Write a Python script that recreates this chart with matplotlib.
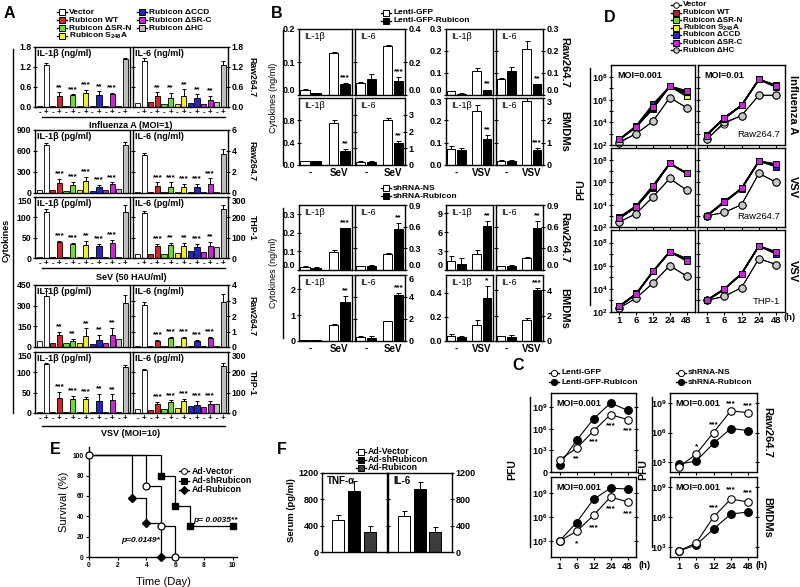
import matplotlib
matplotlib.use('Agg')
import matplotlib.pyplot as plt
from matplotlib.ticker import NullLocator
import numpy as np

plt.rcParams['font.family'] = ['Liberation Sans', 'DejaVu Sans']
plt.rcParams['font.weight'] = 'bold'
plt.rcParams['font.size'] = 5.5
plt.rcParams['axes.linewidth'] = 1.0
plt.rcParams['xtick.major.width'] = 0.8
plt.rcParams['ytick.major.width'] = 0.8
plt.rcParams['xtick.major.size'] = 2.5
plt.rcParams['ytick.major.size'] = 2.5
plt.rcParams['xtick.major.pad'] = 1.2
plt.rcParams['ytick.major.pad'] = 1.2
plt.rcParams['ytick.direction'] = 'inout'
plt.rcParams['mathtext.fontset'] = 'custom'
for k in ['rm', 'it', 'bf', 'sf', 'tt', 'cal']:
    plt.rcParams['mathtext.' + k] = 'Liberation Sans:bold'
plt.rcParams['mathtext.default'] = 'bf'

# ---------------- panel A data ----------------
A_groups = ['Vector', 'Rubicon WT', 'Rubicon ΔSR-N', 'Rubicon S$_{248}$A',
            'Rubicon ΔCCD', 'Rubicon ΔSR-C', 'Rubicon ΔHC']
A_colors = ['#ffffff', '#d0262e', '#6cd934', '#f0ee2a', '#2626c8', '#c42ad2', '#bebebe']
A_virus = ['Influenza A (MOI=1)', 'SeV (50 HAU/ml)', 'VSV (MOI=10)']
A_cells = ['Raw264.7', 'Raw264.7', 'THP-1', 'Raw264.7', 'THP-1']
A_il1b_units = ['ng/ml', 'pg/ml', 'pg/ml', 'pg/ml', 'pg/ml']
A_il6_units = ['ng/ml', 'ng/ml', 'pg/ml', 'ng/ml', 'pg/ml']

A_il1b_minus = [[0.03, 0.03, 0.03, 0.03, 0.03, 0.03, 0.03],
                [40, 40, 30, 40, 30, 40, 50],
                [2, 2, 2, 2, 2, 2, 2],
                [40, 30, 30, 30, 25, 30, 55],
                [3, 3, 3, 3, 3, 3, 3]]
A_il1b_plus = [[1.27, 0.32, 0.35, 0.42, 0.35, 0.38, 1.45],
               [690, 140, 120, 175, 80, 130, 680],
               [112, 40, 35, 32, 30, 38, 112],
               [370, 90, 40, 80, 50, 85, 320],
               [120, 37, 35, 35, 30, 32, 112]]
A_il1b_err = [[0.05, 0.12, 0.03, 0.1, 0.12, 0.04, 0.03],
              [30, 60, 40, 50, 40, 20, 50],
              [8, 3, 3, 10, 5, 6, 18],
              [60, 20, 20, 55, 40, 55, 60],
              [2, 15, 8, 5, 17, 14, 6]]
A_il1b_stars = [['**', '***', '***', '**', '***'],
                ['***', '***', '***', '***', '***'],
                ['***', '***', '**', '***', '***'],
                ['**', '**', '**', '**', '**'],
                ['***', '***', '***', '**', '**']]
A_il1b_ticks = [[0, 0.6, 1.2, 1.8], [0, 300, 600, 900], [0, 50, 100, 150],
                [0, 150, 300, 450], [0, 50, 100, 150]]

A_il6_minus = [[0.12, 0.15, 0.1, 0.1, 0.12, 0.1, 0.15],
               [0.05, 0.05, 0.05, 0.05, 0.05, 0.05, 0.05],
               [20, 20, 20, 25, 35, 30, 55],
               [0.05, 0.05, 0.05, 0.05, 0.05, 0.05, 0.05],
               [20, 15, 20, 25, 35, 30, 45]]
A_il6_plus = [[1.37, 0.32, 0.27, 0.33, 0.28, 0.22, 1.25],
              [3.6, 0.7, 0.6, 0.6, 0.6, 0.9, 3.7],
              [220, 60, 65, 60, 55, 60, 240],
              [2.7, 0.4, 0.6, 0.6, 0.4, 0.6, 2.9],
              [210, 45, 55, 60, 40, 45, 230]]
A_il6_err = [[0.1, 0.12, 0.15, 0.2, 0.1, 0.12, 0.13],
             [0.2, 0.3, 0.4, 0.3, 0.3, 0.5, 0.5],
             [10, 10, 10, 15, 15, 20, 20],
             [0.2, 0.05, 0.05, 0.05, 0.05, 0.05, 0.5],
             [5, 10, 8, 10, 20, 15, 15]]
A_il6_stars = [['**', '**', '**', '**', '**'],
               ['***', '***', '***', '***', '***'],
               ['***', '**', '**', '***', '**'],
               ['***', '***', '***', '***', '***'],
               ['***', '***', '***', '***', '***']]
A_il6_ticks = [[0, 0.6, 1.2, 1.8], [0, 2, 4, 6], [0, 100, 200, 300],
               [0, 1, 2, 3, 4], [0, 100, 200, 300]]

# ---------------- panel B data ----------------
B_conditions = ['-', 'SeV', '-', 'SeV', '-', 'VSV', '-', 'VSV']
B_lenti_raw_vals = [[0.016, 0.006, 0.128, 0.033], [0.075, 0.1, 0.3, 0.085],
                    [0.017, 0.006, 0.11, 0.022], [0.075, 0.108, 0.21, 0.048]]
B_lenti_raw_err = [[0.002, 0.001, 0.003, 0.004], [0.005, 0.025, 0.005, 0.025],
                   [0.001, 0.001, 0.015, 0.003], [0.004, 0.02, 0.035, 0.004]]
B_lenti_raw_stars = ['***', '***', '**', '**']
B_lenti_raw_ticks = [[0, 0.1, 0.2], [0, 0.2, 0.4], [0, 0.1, 0.2, 0.3], [0, 0.1, 0.2, 0.3]]
B_lenti_raw_top = [0.2, 0.4, 0.3, 0.3]

B_lenti_bmdm_vals = [[0.07, 0.07, 0.75, 0.25], [0.2, 0.2, 2.7, 1.3],
                     [0.07, 0.065, 0.24, 0.115], [0.2, 0.2, 2.85, 0.68]]
B_lenti_bmdm_err = [[0.01, 0.01, 0.06, 0.04], [0.01, 0.01, 0.08, 0.15],
                    [0.015, 0.01, 0.03, 0.02], [0.01, 0.01, 0.2, 0.06]]
B_lenti_bmdm_stars = ['**', '**', '**', '***']
B_lenti_bmdm_ticks = [[0, 0.4, 0.8], [0, 1, 2, 3], [0, 0.1, 0.2, 0.3], [0, 1, 2, 3]]
B_lenti_bmdm_top = [1.2, 4, 0.3, 3]

B_sh_raw_vals = [[0.015, 0.01, 0.095, 0.225], [0.05, 0.06, 0.22, 0.57],
                 [1.4, 1.0, 2.5, 6.9], [0.05, 0.06, 0.17, 0.58]]
B_sh_raw_err = [[0.005, 0.006, 0.012, 0.003], [0.005, 0.005, 0.01, 0.08],
                [0.8, 0.9, 0.7, 0.9], [0.005, 0.005, 0.01, 0.1]]
B_sh_raw_stars = ['***', '**', '**', '**']
B_sh_raw_ticks = [[0, 0.1, 0.2, 0.3], [0, 0.3, 0.6, 0.9], [0, 3, 6, 9], [0, 0.3, 0.6, 0.9]]
B_sh_raw_top = [0.35, 0.9, 10.3, 0.9]

B_sh_bmdm_vals = [[0.04, 0.03, 0.6, 1.5], [0.4, 0.3, 1.8, 4.2],
                  [0.045, 0.035, 0.135, 0.36], [0.4, 0.3, 1.65, 4.0]]
B_sh_bmdm_err = [[0.01, 0.01, 0.05, 0.25], [0.02, 0.2, 0.05, 0.15],
                 [0.015, 0.005, 0.04, 0.1], [0.02, 0.2, 0.2, 0.2]]
B_sh_bmdm_stars = ['**', '***', '*', '***']
B_sh_bmdm_ticks = [[0, 1, 2], [0, 2, 4, 6], [0, 0.2, 0.4], [0, 2, 4]]
B_sh_bmdm_top = [2.55, 6, 0.55, 5.2]

# ---------------- panel D data (log10 PFU) ----------------
D_hours = ['1', '6', '12', '24', '48']
D_flu_lo = [[2.3, 3.0, 4.1, 6.2, 5.3], [2.5, 3.6, 5.4, 7.2, 6.6], [2.5, 3.6, 5.2, 7.2, 6.5],
            [2.5, 3.6, 5.3, 7.2, 6.3], [2.5, 3.7, 5.6, 7.2, 6.7], [2.5, 3.6, 5.4, 7.2, 6.8],
            [2.2, 3.0, 4.1, 6.2, 5.3]]
D_flu_hi = [[2.5, 3.9, 4.6, 6.4, 6.4], [2.9, 4.4, 5.5, 7.8, 7.2], [2.9, 4.3, 5.5, 7.8, 7.1],
            [2.9, 4.4, 5.5, 7.8, 7.2], [2.9, 4.4, 5.5, 7.8, 7.3], [2.8, 4.4, 5.5, 7.8, 7.2],
            [2.5, 4.0, 4.6, 6.4, 6.4]]
D_vsv_raw_lo = [[2.45, 3.2, 4.7, 6.35, 5.3], [2.8, 3.8, 5.6, 7.7, 6.8], [2.8, 3.8, 5.5, 7.7, 6.8],
                [2.8, 3.8, 5.6, 7.7, 6.8], [2.9, 3.9, 5.7, 7.7, 6.8], [2.8, 3.8, 5.7, 7.7, 6.8],
                [2.45, 3.2, 4.7, 6.35, 5.3]]
D_vsv_raw_hi = [[3.0, 3.3, 4.0, 6.8, 6.0], [3.0, 4.2, 5.45, 7.9, 7.5], [3.0, 4.2, 5.4, 7.9, 7.5],
                [3.0, 4.2, 5.45, 7.9, 7.6], [3.0, 4.3, 5.45, 7.9, 7.4], [3.0, 4.2, 5.45, 7.9, 7.65],
                [3.0, 3.3, 4.0, 6.8, 6.0]]
D_vsv_thp_lo = [[2.35, 3.2, 4.5, 6.0, 5.1], [2.5, 3.55, 5.5, 7.2, 6.6], [2.5, 3.55, 5.5, 7.2, 6.5],
                [2.5, 3.55, 5.5, 7.2, 6.5], [2.5, 3.6, 5.5, 7.2, 6.6], [2.5, 3.55, 5.5, 7.2, 6.4],
                [2.35, 3.2, 4.5, 6.0, 5.1]]
D_vsv_thp_hi = [[3.0, 3.35, 4.1, 6.6, 6.1], [3.0, 3.95, 5.3, 7.7, 7.1], [3.0, 3.95, 5.3, 7.7, 7.1],
                [3.0, 3.95, 5.3, 7.7, 7.1], [3.0, 4.0, 5.3, 7.7, 7.0], [3.0, 3.95, 5.3, 7.7, 7.2],
                [3.0, 3.35, 4.1, 6.6, 6.1]]
D_markers = ['o', 's', 's', 's', 's', 's', 'o']
D_faces = ['#ffffff', '#b0222c', '#6cd934', '#f0ee2a', '#2626c8', '#c42ad2', '#c8c8c8']

# ---------------- panel C data (log10 PFU) ----------------
C_lenti_raw_gfp = [1.7, 3.3, 5.7, 8.0, 7.3]
C_lenti_raw_rub = [1.0, 4.4, 7.4, 9.6, 8.6]
C_lenti_bmdm_gfp = [3.0, 4.2, 6.2, 8.5, 7.9]
C_lenti_bmdm_rub = [3.0, 5.3, 8.2, 9.6, 9.5]
C_sh_raw_ns = [2.5, 3.8, 6.0, 8.2, 8.0]
C_sh_raw_rub = [2.8, 3.1, 4.9, 6.4, 6.2]
C_sh_bmdm_ns = [2.6, 3.4, 6.0, 7.8, 7.5]
C_sh_bmdm_rub = [2.6, 3.2, 4.8, 6.3, 6.5]
C_lenti_raw_stars = ['', '**', '***', '***', '***']
C_lenti_bmdm_stars = ['', '*', '***', '***', '***']
C_sh_raw_stars = ['', '*', '***', '***', '***']
C_sh_bmdm_stars = ['', '', '***', '***', '***']

# ---------------- panel E data ----------------
E_days_vector = [0, 4, 5, 6]
E_surv_vector = [100, 70, 30, 0]
E_days_sh = [0, 5, 6, 7, 10]
E_surv_sh = [100, 80, 50, 30, 30]
E_days_rub = [0, 3, 4, 5]
E_surv_rub = [100, 58, 33, 0]

# ---------------- panel F data ----------------
F_groups = ['Ad-Vector', 'Ad-shRubicon', 'Ad-Rubicon']
F_colors = ['#ffffff', '#000000', '#3c3c3c']
F_tnf = [485, 925, 305]
F_tnf_err = [70, 150, 85]
F_il6 = [550, 950, 300]
F_il6_err = [80, 110, 80]

# ---------------- layout helpers ----------------
W, H = 800, 587
fig = plt.figure(figsize=(8, 5.87), dpi=100)
ov = fig.add_axes([0, 0, 1, 1], zorder=20)
ov.set_xlim(0, W)
ov.set_ylim(H, 0)
ov.axis('off')


def box(x0, y0, x1, y1):
    return fig.add_axes([x0 / W, 1 - y1 / H, (x1 - x0) / W, (y1 - y0) / H])


def fmt(ticks):
    if any(abs(t - round(t)) > 1e-9 for t in ticks):
        return ['%.1f' % t for t in ticks]
    return ['%d' % t for t in ticks]


def text(x, y, s, **kw):
    ov.text(x, y, s, **kw)


def swatch(x, y, marker, face, ms=4.0, half=5):
    ov.plot([x - half, x + half], [y, y], color='k', lw=1.0)
    ov.plot([x], [y], marker=marker, mfc=face, mec='k', ms=ms, mew=0.7)


def side_ticks(ax, ticks, side, size, stacked=False, above=False):
    ax.set_yticks(ticks)
    ax.set_yticklabels(fmt(ticks))
    if side == 'right':
        ax.yaxis.tick_right()
        ax.tick_params(axis='y', left=True, right=True, labelleft=False, labelright=True)
    else:
        ax.tick_params(axis='y', left=True, labelleft=True)
    ax.tick_params(axis='y', labelsize=size)
    labs = ax.get_yticklabels()
    # keep labels of stacked panels from running into each other
    if stacked:
        labs[-1].set_va('top')
    if above:
        labs[0].set_va('bottom')


# ---------------- panel A ----------------
A_cols = [(35, 130), (133, 228)]
A_rows = [(47, 107), (130, 193), (197, 258), (285, 347), (352, 413)]

for r in range(5):
    y0, y1 = A_rows[r]
    for side in range(2):
        x0, x1 = A_cols[side]
        ax = box(x0, y0, x1, y1)
        if side == 0:
            minus, plus, err, stars = A_il1b_minus[r], A_il1b_plus[r], A_il1b_err[r], A_il1b_stars[r]
            ticks, title = A_il1b_ticks[r], 'IL-1β (%s)' % A_il1b_units[r]
        else:
            minus, plus, err, stars = A_il6_minus[r], A_il6_plus[r], A_il6_err[r], A_il6_stars[r]
            ticks, title = A_il6_ticks[r], 'IL-6 (%s)' % A_il6_units[r]
        top = ticks[-1]
        pm = np.arange(7) * 2
        pp = pm + 1
        ax.bar(pm, minus, 0.8, color=A_colors, edgecolor='k', lw=0.6)
        ax.bar(pp, plus, 0.8, color=A_colors, edgecolor='k', lw=0.6)
        ax.errorbar(pp, plus, yerr=[np.zeros(7), err], fmt='none', ecolor='k',
                    elinewidth=0.7, capsize=1.5, capthick=0.7)
        for i, s in enumerate(stars):
            ax.text(pp[i + 1], plus[i + 1] + err[i + 1] + top * 0.08, s,
                    ha='center', va='center', fontsize=6)
        ax.set_xlim(-0.7, 13.7)
        ax.set_ylim(0, top)
        side_ticks(ax, ticks, 'left' if side == 0 else 'right', 6.2, stacked=r in (2, 4))
        ax.text(0.02, 0.97, title, transform=ax.transAxes, ha='left', va='top', fontsize=6.5)
        if r in (0, 2, 4):
            ax.set_xticks(np.arange(14))
            ax.set_xticklabels(['-', '+'] * 7, fontsize=5.8)
            ax.tick_params(axis='x', length=0, pad=1.5)
        else:
            ax.set_xticks([])
    text(252, (y0 + y1) / 2, A_cells[r], rotation=270, ha='center', va='center', fontsize=6.3)

for i, (yline, ytxt) in enumerate([(117, 125), (268, 277), (426, 434)]):
    ov.plot([42, 225], [yline, yline], color='k', lw=1.0)
    text(131, ytxt, A_virus[i], ha='center', va='center', fontsize=6.5)

ov.plot([13, 13], [49, 413], color='k', lw=1.0)
text(6, 240, 'Cytokines', rotation=90, ha='center', va='center', fontsize=6.5)

text(9, 13, 'A', fontsize=11.5, ha='center', va='center')
for i in range(7):
    if i < 4:
        x, y = 62, 12 + 8 * i
    else:
        x, y = 142, 12 + 8 * (i - 4)
    swatch(x, y, 's', A_colors[i])
    text(x + 7, y, A_groups[i], ha='left', va='center', fontsize=6)

# ---------------- panel B ----------------
B_cols = [(299, 352), (355, 405), (446, 493), (496, 543)]
B_rows = [(29, 95), (98, 165), (205, 270), (275, 341)]
B_pos = [0.5, 1.5, 3.0, 4.0]
B_colors = ['#ffffff', '#000000', '#ffffff', '#000000']
B_sets = [(B_lenti_raw_vals, B_lenti_raw_err, B_lenti_raw_stars, B_lenti_raw_ticks, B_lenti_raw_top),
          (B_lenti_bmdm_vals, B_lenti_bmdm_err, B_lenti_bmdm_stars, B_lenti_bmdm_ticks, B_lenti_bmdm_top),
          (B_sh_raw_vals, B_sh_raw_err, B_sh_raw_stars, B_sh_raw_ticks, B_sh_raw_top),
          (B_sh_bmdm_vals, B_sh_bmdm_err, B_sh_bmdm_stars, B_sh_bmdm_ticks, B_sh_bmdm_top)]
B_cells = ['Raw264.7', 'BMDMs', 'Raw264.7', 'BMDMs']

for r in range(4):
    vals, errs, stars, ticks, tops = B_sets[r]
    y0, y1 = B_rows[r]
    for c in range(4):
        x0, x1 = B_cols[c]
        ax = box(x0, y0, x1, y1)
        v, e, top = vals[c], errs[c], tops[c]
        ax.bar(B_pos, v, 0.85, color=B_colors, edgecolor='k', lw=0.7)
        ax.errorbar(B_pos, v, yerr=[np.zeros(4), e], fmt='none', ecolor='k',
                    elinewidth=0.7, capsize=1.8, capthick=0.7)
        ax.text(B_pos[3], v[3] + e[3] + top * 0.08, stars[c], ha='center', va='center', fontsize=6)
        ax.set_xlim(0, 4.6)
        ax.set_ylim(0, top)
        side_ticks(ax, ticks[c], 'left' if c % 2 == 0 else 'right', 6.5,
                   stacked=(r in (1, 3) and abs(ticks[c][-1] - top) < 1e-9),
                   above=r in (0, 2))
        ax.text(0.1, 0.95, 'IL-1β' if c % 2 == 0 else 'IL-6', transform=ax.transAxes,
                ha='left', va='top', fontsize=6.5, fontweight='normal')
        if r in (1, 3):
            ax.set_xticks([1.0, 3.5])
            ax.set_xticklabels(B_conditions[2 * c:2 * c + 2], fontsize=7)
            ax.tick_params(axis='x', length=0, pad=2)
        else:
            ax.set_xticks([])
    text(564, (y0 + y1) / 2, B_cells[r], rotation=270, ha='center', va='center', fontsize=8)

for (ya, yb) in [(30, 165), (208, 338)]:
    ov.plot([283, 283], [ya, yb], color='k', lw=1.0)
    text(273, (ya + yb) / 2, 'Cytokines (ng/ml)', rotation=90, ha='center', va='center',
         fontsize=6.5, fontweight='normal')

text(277, 14, 'B', fontsize=11.5, ha='center', va='center')
for i, (lab, face) in enumerate([('Lenti-GFP', '#ffffff'), ('Lenti-GFP-Rubicon', '#000000')]):
    swatch(386, 13 + 8 * i, 's', face)
    text(393, 13 + 8 * i, lab, ha='left', va='center', fontsize=6)
for i, (lab, face) in enumerate([('shRNA-NS', '#ffffff'), ('shRNA-Rubicon', '#000000')]):
    swatch(386, 188 + 8 * i, 's', face)
    text(393, 188 + 8 * i, lab, ha='left', va='center', fontsize=6)

# ---------------- panel D ----------------
D_cols = [(611, 695), (698, 785)]
D_rows = [(65, 145), (148, 227), (230, 312)]
D_sets = [(D_flu_lo, D_flu_hi), (D_vsv_raw_lo, D_vsv_raw_hi), (D_vsv_thp_lo, D_vsv_thp_hi)]
D_right = ['Influenza A', 'VSV', 'VSV']
D_inner = ['Raw264.7', 'Raw264.7', 'THP-1']
D_order = [0, 6, 1, 2, 3, 4, 5]
xh = np.arange(5)
for r in range(3):
    y0, y1 = D_rows[r]
    for c in range(2):
        x0, x1 = D_cols[c]
        ax = box(x0, y0, x1, y1)
        data = D_sets[r][c]
        for k in D_order:
            thin = k in (0, 6)
            ax.plot(xh, 10 ** np.array(data[k]), color='k', lw=0.7 if thin else 1.1,
                    marker=D_markers[k], mfc=D_faces[k], mec='k', mew=0.7,
                    ms=5.2 if thin else 4.5, clip_on=False)
        ax.set_yscale('log')
        ax.set_ylim(1e2, 1.2e9)
        ax.set_xlim(-0.5, 4.5)
        ax.yaxis.set_minor_locator(NullLocator())
        ax.set_yticks([10.0 ** p for p in range(2, 9)])
        if c == 0:
            ax.set_yticklabels(['10$^{%d}$' % p if p % 2 == 0 else '' for p in range(2, 9)])
            ax.tick_params(axis='y', labelsize=6.5)
        else:
            ax.set_yticklabels([])
        ax.set_xticks(xh)
        if r == 2:
            ax.set_xticklabels(D_hours, fontsize=6.8)
        else:
            ax.set_xticklabels([])
        ax.tick_params(axis='x', length=2)
        if r == 0:
            ax.text(0.07, 0.93, 'MOI=0.001' if c == 0 else 'MOI=0.01', transform=ax.transAxes,
                    ha='left', va='top', fontsize=6.5)
        if c == 1:
            ax.text(0.94, 0.07, D_inner[r], transform=ax.transAxes, ha='right', va='bottom',
                    fontsize=6.8, fontweight='normal')
    text(793, (y0 + y1) / 2, D_right[r], rotation=270, ha='center', va='center', fontsize=8)

ov.plot([590, 590], [68, 305], color='k', lw=1.0)
text(581, 190, 'PFU', rotation=90, ha='center', va='center', fontsize=7.5)
text(790, 318, '(h)', ha='center', va='center', fontsize=6.8)
text(610, 17, 'D', fontsize=11.5, ha='center', va='center')
D_labels = ['Vector', 'Rubicon WT', 'Rubicon ΔSR-N', 'Rubicon S$_{248}$A',
            'Rubicon ΔCCD', 'Rubicon ΔSR-C', 'Rubicon ΔHC']
for i in range(7):
    swatch(676, 5 + 7.5 * i, D_markers[i], D_faces[i], ms=4.0)
    text(683, 5 + 7.5 * i, D_labels[i], ha='left', va='center', fontsize=5.8)

# ---------------- panel C ----------------
C_cols = [(551, 636), (670, 757)]
C_rows = [(393, 472), (477, 557)]
C_sets = [[(C_lenti_raw_gfp, C_lenti_raw_rub, C_lenti_raw_stars, (1, 1e11), -1.5),
           (C_sh_raw_ns, C_sh_raw_rub, C_sh_raw_stars, (1e2, 1e10), 0.75)],
          [(C_lenti_bmdm_gfp, C_lenti_bmdm_rub, C_lenti_bmdm_stars, (1e1, 1e11), -1.5),
           (C_sh_bmdm_ns, C_sh_bmdm_rub, C_sh_bmdm_stars, (1e2, 1e10), 0.9)]]
C_cells = ['Raw264.7', 'BMDMs']
for r in range(2):
    y0, y1 = C_rows[r]
    for c in range(2):
        x0, x1 = C_cols[c]
        ax = box(x0, y0, x1, y1)
        opn, fil, stars, lim, off = C_sets[r][c]
        ax.plot(xh, 10 ** np.array(opn), color='k', lw=0.8, marker='o', mfc='white',
                mec='k', mew=0.8, ms=5.4, clip_on=False, zorder=3)
        ax.plot(xh, 10 ** np.array(fil), color='k', lw=0.8, marker='o', mfc='black',
                mec='k', ms=5.4, clip_on=False, zorder=2)
        for i, s in enumerate(stars):
            if s:
                ax.text(xh[i], 10 ** (opn[i] + off), s, ha='center', va='center', fontsize=6)
        ax.set_yscale('log')
        ax.set_ylim(*lim)
        ax.set_xlim(-0.5, 4.5)
        ax.yaxis.set_minor_locator(NullLocator())
        yt = [1e3, 1e6, 1e9]
        yl = ['10$^{3}$', '10$^{6}$', '10$^{9}$']
        if r == 0 and c == 0:
            yt = [1] + yt
            yl = ['0'] + yl
        ax.set_yticks(yt)
        ax.set_yticklabels(yl)
        ax.tick_params(axis='y', labelsize=6.5, right=True)
        ax.set_xticks(xh)
        if r == 1:
            ax.set_xticklabels(D_hours, fontsize=6.8)
        else:
            ax.set_xticklabels([])
        ax.text(0.06, 0.93, 'MOI=0.001', transform=ax.transAxes, ha='left', va='top', fontsize=6.5)
    text(767, (y0 + y1) / 2, C_cells[r], rotation=270, ha='center', va='center', fontsize=8)

for xl, xt in [(530, 512), (652, 643)]:
    ov.plot([xl, xl], [397, 547], color='k', lw=1.0)
    text(xt, 470, 'PFU', rotation=90, ha='center', va='center', fontsize=7.5)
text(645, 566, '(h)', ha='center', va='center', fontsize=6.8)
text(762, 566, '(h)', ha='center', va='center', fontsize=6.8)
text(518, 365, 'C', fontsize=11.5, ha='center', va='center')
for i, (lab, face) in enumerate([('Lenti-GFP', 'white'), ('Lenti-GFP-Rubicon', 'black')]):
    swatch(554, 373 + 9 * i, 'o', face, ms=4.5)
    text(561, 373 + 9 * i, lab, ha='left', va='center', fontsize=6)
for i, (lab, face) in enumerate([('shRNA-NS', 'white'), ('shRNA-Rubicon', 'black')]):
    swatch(681, 373 + 9 * i, 'o', face, ms=4.5)
    text(688, 373 + 9 * i, lab, ha='left', va='center', fontsize=6)

# ---------------- panel E ----------------
ax = box(89, 447, 237, 557)
ax.step(E_days_sh, E_surv_sh, where='post', color='k', lw=0.9)
ax.plot(E_days_sh[1:], E_surv_sh[1:], 's', color='k', ms=3.8, clip_on=False)
ax.step(E_days_rub, E_surv_rub, where='post', color='k', lw=0.9)
ax.plot(E_days_rub[1:], E_surv_rub[1:], 'D', color='k', ms=3.8, clip_on=False)
ax.step(E_days_vector, E_surv_vector, where='post', color='k', lw=0.9)
ax.plot(E_days_vector, E_surv_vector, 'o', mfc='white', mec='k', mew=0.9, ms=5.0, clip_on=False, zorder=5)
ax.set_xlim(0, 10.3)
ax.set_ylim(0, 108)
ax.set_xticks([0, 2, 4, 6, 8, 10])
ax.set_yticks([0, 20, 40, 60, 80, 100])
ax.tick_params(labelsize=4.8, direction='out')
ax.spines['top'].set_visible(False)
ax.spines['right'].set_visible(False)
ax.set_ylabel('Survival (%)', fontsize=8, labelpad=3)
ax.set_xlabel('Time (Day)', fontsize=8, labelpad=6)
text(193, 521, 'p= 0.0035**', ha='left', va='center', fontsize=6, style='italic')
text(121, 540, 'p=0.0149*', ha='left', va='center', fontsize=6, style='italic')
text(55, 450, 'E', fontsize=11.5, ha='center', va='center')
for i, (lab, mk, face) in enumerate([('Ad-Vector', 'o', 'white'), ('Ad-shRubicon', 's', 'black'),
                                      ('Ad-Rubicon', 'D', 'black')]):
    swatch(184, 471 + 9.5 * i, mk, face, ms=4.2)
    text(192, 471 + 9.5 * i, lab, ha='left', va='center', fontsize=6.3)

# ---------------- panel F ----------------
for j, (x0, x1, vals, errs, title) in enumerate([(322, 387, F_tnf, F_tnf_err, 'TNF-α'),
                                                 (388, 452, F_il6, F_il6_err, 'IL-6')]):
    ax = box(x0, 473, x1, 552)
    fx = np.arange(3)
    ax.bar(fx, vals, 0.75, color=F_colors, edgecolor='k', lw=0.7)
    ax.errorbar(fx, vals, yerr=[np.zeros(3), errs], fmt='none', ecolor='k',
                elinewidth=0.7, capsize=1.8, capthick=0.7)
    ax.set_xlim(-1.0, 3.05)
    ax.set_ylim(0, 1200)
    ax.set_xticks([])
    side_ticks(ax, [0, 400, 800, 1200], 'left' if j == 0 else 'right', 6.5)
    ax.text(0.08, 0.96, title, transform=ax.transAxes, ha='left', va='top', fontsize=7)
text(292, 510, 'Serum (pg/ml)', rotation=90, ha='center', va='center', fontsize=6.8)
text(282, 450, 'F', fontsize=11.5, ha='center', va='center')
for i in range(3):
    swatch(361, 452 + 8 * i, 's', F_colors[i])
    text(368, 452 + 8 * i, F_groups[i], ha='left', va='center', fontsize=6.3)

fig.savefig('out.png', dpi=100)
